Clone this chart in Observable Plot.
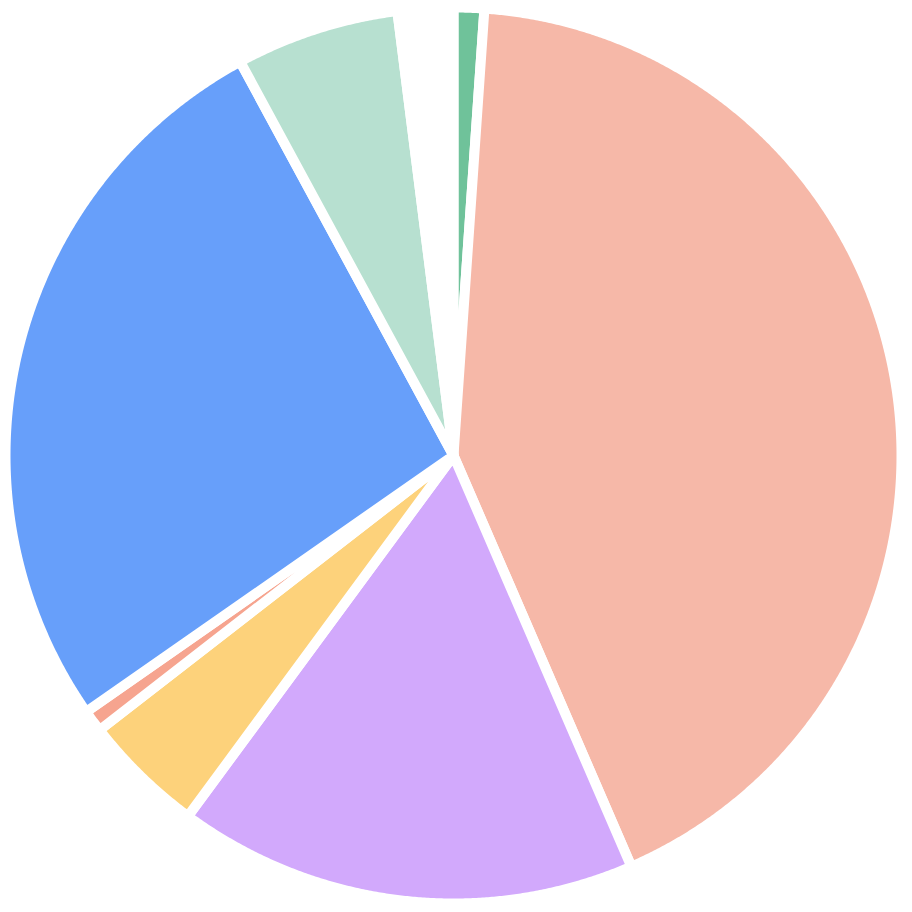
<!DOCTYPE html>
<html><head><meta charset="utf-8">
<script src="https://cdn.jsdelivr.net/npm/d3@7"></script>
<script src="https://cdn.jsdelivr.net/npm/@observablehq/plot@0.6"></script>
<style>html,body{margin:0;padding:0;background:#fff;}</style>
</head><body><div id="chart"></div>
<script>
const categories = ["A","B","C","D","E","F","G","H"];
const values = [1.1, 42.4, 16.6, 4.4, 0.8, 26.8, 5.9, 2.0];
const colors = ["#6fc29a","#f6b8a8","#d2a9fc","#fdd27b","#f6a48f","#679ffa","#b7e0d0","#ffffff"];

const arcs = d3.pie().sort(null).value(d => d)(values);
const points = [];
arcs.forEach((a, i) => {
  points.push({key: categories[i], color: colors[i], x: 0, y: 0});
  const n = Math.max(2, Math.ceil((a.endAngle - a.startAngle) / (Math.PI / 720)));
  for (let k = 0; k <= n; k++) {
    const t = a.startAngle + (a.endAngle - a.startAngle) * k / n;
    points.push({key: categories[i], color: colors[i], x: Math.sin(t), y: Math.cos(t)});
  }
});
const cx = 453, cy = 455, R = 448;
const chart = Plot.plot({
  width: 912, height: 912, margin: 0,
  x: {domain: [-1, 1], range: [cx - R, cx + R], axis: null},
  y: {domain: [-1, 1], range: [cy + R, cy - R], axis: null},
  color: {type: "identity"},
  marks: [
    Plot.line(points, {x: "x", y: "y", z: "key", fill: "color", stroke: "white", strokeWidth: 10, strokeLinejoin: "round", curve: "linear-closed"})
  ]
});
document.getElementById("chart").append(chart);
</script>
</body></html>
